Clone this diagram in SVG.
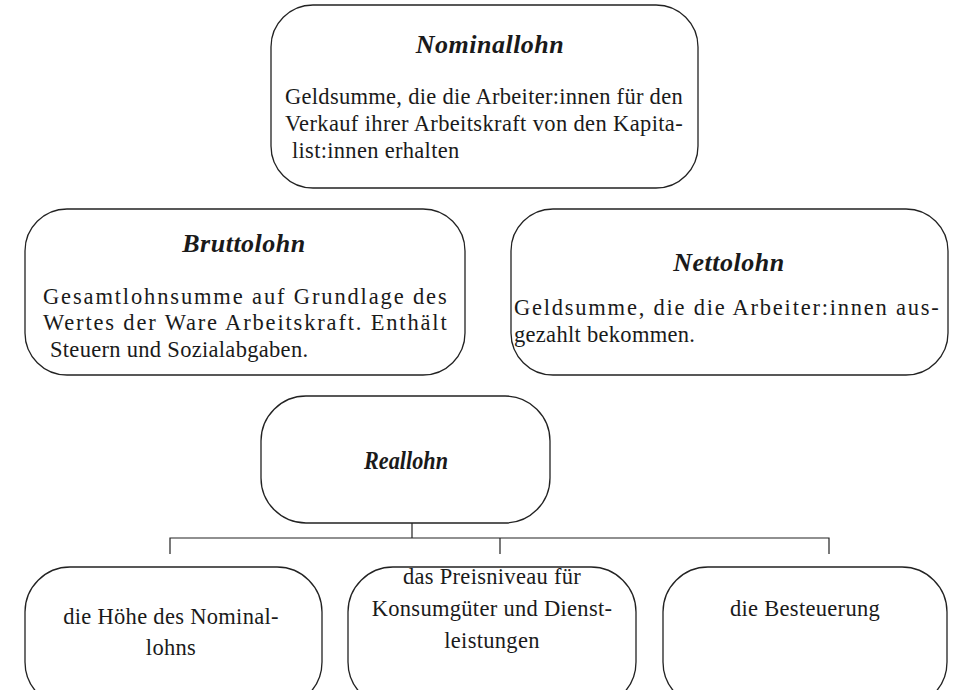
<svg xmlns="http://www.w3.org/2000/svg" width="956" height="690" viewBox="0 0 956 690">
<style>
.box{fill:#fff;stroke:#222;stroke-width:1.3}
.t{font-family:"Liberation Serif",serif;font-size:26px;font-weight:bold;font-style:italic;fill:#1a1a1a;text-anchor:middle;letter-spacing:0.5px}
.b{font-family:"Liberation Serif",serif;font-size:22.5px;fill:#1a1a1a;letter-spacing:0.3px}
.c{text-anchor:middle}
.ln{stroke:#222;stroke-width:1.2;fill:none}
</style>
<rect width="956" height="690" fill="#fff"/>
<g id="nominallohn">
<rect class="box" x="271" y="5" width="427" height="183" rx="42"/>
<text class="t" x="490" y="53">Nominallohn</text>
<text class="b" x="285" y="104" textLength="398" lengthAdjust="spacing">Geldsumme, die die Arbeiter:innen für den</text>
<text class="b" x="285" y="131" textLength="398" lengthAdjust="spacing">Verkauf ihrer Arbeitskraft von den Kapita-</text>
<text class="b" x="292" y="158">list:innen erhalten</text>
</g>
<g id="bruttolohn">
<rect class="box" x="25" y="209" width="440" height="166" rx="42"/>
<text class="t" x="244" y="252">Bruttolohn</text>
<text class="b" x="43" y="304" textLength="404" lengthAdjust="spacing">Gesamtlohnsumme auf Grundlage des</text>
<text class="b" x="43" y="330" textLength="404" lengthAdjust="spacing">Wertes der Ware Arbeitskraft. Enthält</text>
<text class="b" x="50" y="357">Steuern und Sozialabgaben.</text>
</g>
<g id="nettolohn">
<rect class="box" x="511" y="209" width="437" height="166" rx="42"/>
<text class="t" x="729" y="271">Nettolohn</text>
<text class="b" x="514" y="315" textLength="425" lengthAdjust="spacing">Geldsumme, die die Arbeiter:innen aus-</text>
<text class="b" x="514" y="342">gezahlt bekommen.</text>
</g>
<g id="reallohn">
<rect class="box" x="261" y="396" width="289" height="127" rx="45"/>
<text class="t" x="406" y="469" style="letter-spacing:0;font-size:25px" textLength="84" lengthAdjust="spacingAndGlyphs">Reallohn</text>
</g>
<g id="connectors">
<path class="ln" d="M412 523 V538 M170 554 V538 H829 V554 M500 538 V554"/>
</g>
<g id="hoehe">
<rect class="box" x="25" y="567" width="297" height="140" rx="45"/>
<text class="b c" x="171" y="624">die Höhe des Nominal-</text>
<text class="b c" x="171" y="655">lohns</text>
</g>
<g id="preisniveau">
<rect class="box" x="348" y="567" width="288" height="140" rx="45"/>
<text class="b c" x="492" y="584">das Preisniveau für</text>
<text class="b c" x="492" y="616">Konsumgüter und Dienst-</text>
<text class="b c" x="492" y="648">leistungen</text>
</g>
<g id="besteuerung">
<rect class="box" x="663" y="567" width="284" height="140" rx="45"/>
<text class="b c" x="805" y="616">die Besteuerung</text>
</g>
</svg>
